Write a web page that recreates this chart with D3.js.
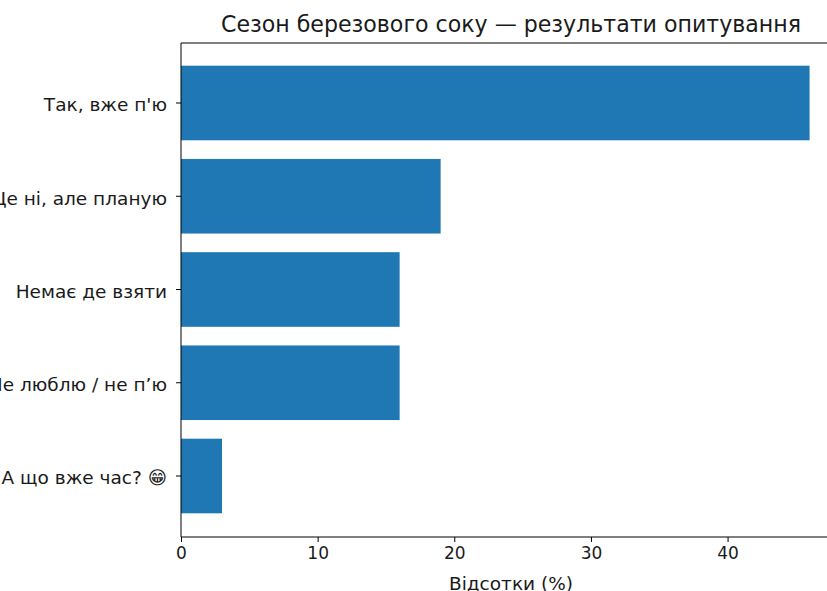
<!DOCTYPE html>
<html lang="uk">
<head>
<meta charset="UTF-8">
<script src="https://d3js.org/d3.v7.min.js"></script>
<style>
    html, body { margin: 0; padding: 0; background: #fff; overflow: hidden; }
    svg { display: block; }
    text { font-family: "DejaVu Sans", sans-serif; fill: #1a1a1a; }
</style>
</head>
<body>
<div id="chart"></div>
<script>
    var categories = ["Так, вже п'ю", "Ще ні, але планую", "Немає де взяти", "Не люблю / не п’ю", "А що вже час? 😁"];
    var values = [46, 19, 16, 16, 3];
    var xTicks = [0, 10, 20, 30, 40];
    var title = "Сезон березового соку — результати опитування";
    var xLabel = "Відсотки (%)";

    var width = 827, height = 591;
    var marginLeft = 181, marginTop = 43, marginBottom = 537;

    var svg = d3.select("#chart").append("svg")
        .attr("width", width)
        .attr("height", height);

    // axis runs past the right edge of the page, same as the original
    var x = d3.scaleLinear().domain([0, 48.3]).range([marginLeft, 841]);
    var y = d3.scaleBand().domain(categories).range([65.7, 513.3]).paddingInner(0.2).paddingOuter(0);

    svg.selectAll("rect.bar")
        .data(values)
        .enter()
        .append("rect")
        .attr("class", "bar")
        .attr("x", x(0))
        .attr("y", function (d, i) { return y(categories[i]); })
        .attr("width", function (d) { return x(d) - x(0); })
        .attr("height", y.bandwidth())
        .style("fill", "#1f77b4");

    var xAxis = svg.append("g")
        .attr("transform", "translate(0," + marginBottom + ")")
        .call(d3.axisBottom(x).tickValues(xTicks).tickSize(5).tickPadding(5));
    xAxis.select(".domain").remove();
    xAxis.selectAll("text").style("font-size", "17px").style("font-family", "DejaVu Sans");
    xAxis.selectAll("line").attr("stroke", "#000");

    var yAxis = svg.append("g")
        .attr("transform", "translate(" + marginLeft + ",0)")
        .call(d3.axisLeft(y).tickSize(5).tickPadding(9));
    yAxis.select(".domain").remove();
    yAxis.selectAll("text").style("font-size", "18.5px").style("font-family", "DejaVu Sans, Noto Sans")
        .attr("dy", "0.45em");
    yAxis.selectAll("line").attr("stroke", "#000");

    svg.append("path")
        .attr("d", "M" + (width + 2) + "," + marginTop + "H" + marginLeft + "V" + marginBottom + "H" + (width + 2))
        .attr("fill", "none")
        .attr("stroke", "#000")
        .attr("stroke-width", 1);

    svg.append("text")
        .attr("x", 511)
        .attr("y", 32)
        .attr("text-anchor", "middle")
        .style("font-size", "22.1px")
        .text(title);

    svg.append("text")
        .attr("x", 511)
        .attr("y", 590)
        .attr("text-anchor", "middle")
        .style("font-size", "18.5px")
        .text(xLabel);
</script>
</body>
</html>
